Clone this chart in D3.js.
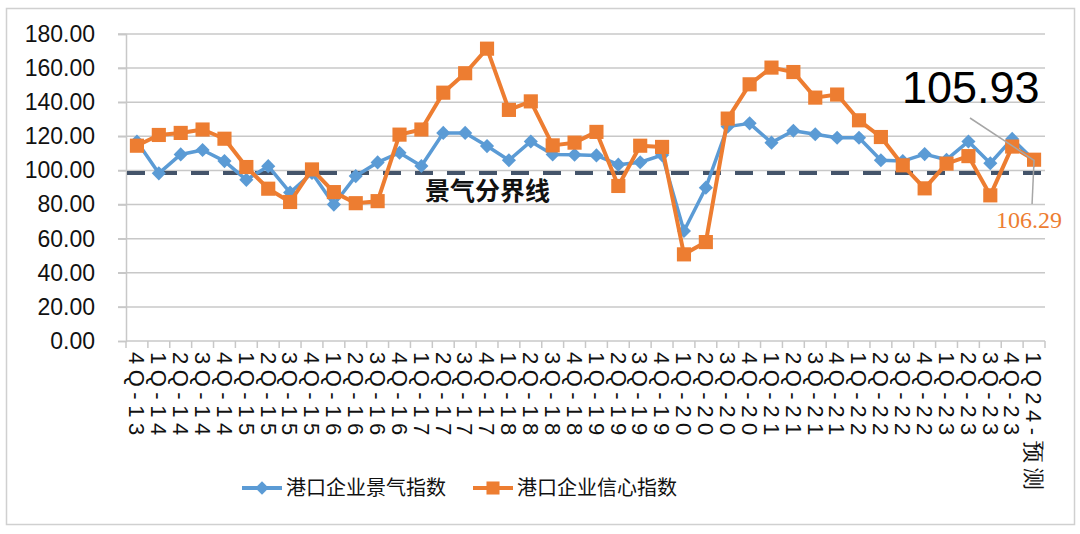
<!DOCTYPE html>
<html>
<head>
<meta charset="utf-8">
<script src="https://cdn.jsdelivr.net/npm/d3@7"></script>
<style>
  body { margin: 0; background: #fff; }
</style>
</head>
<body>
<div id="visContainer"></div>
<script>
'use strict';

// quarters on the x axis
var quarters = ['4Q-13','1Q-14','2Q-14','3Q-14','4Q-14','1Q-15','2Q-15','3Q-15','4Q-15',
  '1Q-16','2Q-16','3Q-16','4Q-16','1Q-17','2Q-17','3Q-17','4Q-17','1Q-18','2Q-18','3Q-18','4Q-18',
  '1Q-19','2Q-19','3Q-19','4Q-19','1Q-20','2Q-20','3Q-20','4Q-20','1Q-21','2Q-21','3Q-21','4Q-21',
  '1Q-22','2Q-22','3Q-22','4Q-22','1Q-23','2Q-23','3Q-23','4Q-23','1Q24-预测'];

// 港口企业景气指数
var prosperity = [117, 98.3, 109.4, 112, 105.5, 94.5, 102.5, 87, 98.5, 80, 96.7, 104.7, 110.4, 102.6,
  122, 122, 114.3, 106, 117, 109.4, 109.2, 108.8, 103.4, 104.8, 109, 64.5, 89.9, 125.7, 127.6,
  116.3, 123.3, 121.2, 119.2, 119.2, 106, 105.5, 109.6, 106.3, 117, 104.2, 118.5, 105.93];

// 港口企业信心指数
var confidence = [114.5, 120.8, 122, 124, 118.6, 102, 89.3, 81.5, 100.6, 87.3, 80.8, 82, 121, 124,
  145.6, 157, 171.4, 135.5, 140.5, 114.7, 116.3, 122.6, 90.9, 114.5, 113.8, 50.8, 58, 130.4, 150.5,
  160.3, 157.7, 142.7, 144.5, 129.4, 119.6, 103, 89.5, 104, 108.4, 85.4, 114, 106.29];

var yTicks = [0, 20, 40, 60, 80, 100, 120, 140, 160, 180];
var boundary = 98.5;  // 景气分界线

var width = 1080;
var height = 534;
var padding = { top: 34, right: 35, bottom: 193, left: 126 };
var sans = '"Liberation Sans", Arial, sans-serif';
var cjk = '"Noto Sans CJK SC", sans-serif';

var svg = d3.select('#visContainer')
  .append('svg')
  .attr('width', width)
  .attr('height', height)
  .style('font-family', sans);

// light frame round the whole chart
svg.append('rect')
  .attr('x', 6.5).attr('y', 8.5)
  .attr('width', 1068).attr('height', 516)
  .attr('fill', 'none')
  .attr('stroke', '#d0d0d0')
  .attr('stroke-width', 1.5);

var x = d3.scaleBand()
  .domain(quarters)
  .range([padding.left, width - padding.right]);

var y = d3.scaleLinear()
  .domain([0, 180])
  .range([height - padding.bottom, padding.top]);

function cx(d, i) { return x(quarters[i]) + x.bandwidth() / 2; }

// gridlines
svg.append('g')
  .selectAll('line')
  .data(yTicks.filter(function(t) { return t > 0; }))
  .enter().append('line')
  .attr('x1', padding.left - 8)
  .attr('x2', width - padding.right)
  .attr('y1', function(d) { return y(d); })
  .attr('y2', function(d) { return y(d); })
  .attr('stroke', '#c8c8c8')
  .attr('stroke-width', 1.5);

// y axis
var yAxis = d3.axisLeft(y)
  .tickValues(yTicks)
  .tickSize(8)
  .tickPadding(23)
  .tickFormat(d3.format('.2f'));
var gy = svg.append('g')
  .attr('transform', 'translate(' + padding.left + ',0)')
  .call(yAxis);
gy.select('.domain').attr('stroke', '#c8c8c8').attr('stroke-width', 1.5);
gy.selectAll('.tick line').attr('stroke', '#c8c8c8').attr('stroke-width', 1.5);
gy.selectAll('.tick text')
  .attr('font-size', '23px')
  .attr('fill', '#111')
  .style('font-family', sans);

// x axis line and tick marks at category edges
var xBase = y(0);
svg.append('line')
  .attr('x1', padding.left).attr('x2', width - padding.right)
  .attr('y1', xBase).attr('y2', xBase)
  .attr('stroke', '#c8c8c8').attr('stroke-width', 1.5);
svg.append('g')
  .selectAll('line')
  .data(quarters.concat(['end']))
  .enter().append('line')
  .attr('x1', function(d, i) { return padding.left + i * x.step(); })
  .attr('x2', function(d, i) { return padding.left + i * x.step(); })
  .attr('y1', xBase).attr('y2', xBase + 7)
  .attr('stroke', '#c8c8c8').attr('stroke-width', 1.5);

// rotated category labels
svg.append('g')
  .selectAll('text')
  .data(quarters)
  .enter().append('text')
  .attr('transform', function(d, i) { return 'translate(' + cx(d, i) + ',' + (xBase + 11) + ') rotate(90)'; })
  .attr('dy', '0.35em')
  .attr('text-anchor', 'start')
  .attr('font-size', '22px')
  .attr('letter-spacing', '5.5px')
  .attr('fill', '#111')
  .text(function(d) { return d; });

// boundary dashed line
svg.append('line')
  .attr('x1', padding.left + 1).attr('x2', width - padding.right)
  .attr('y1', y(boundary)).attr('y2', y(boundary))
  .attr('stroke', '#44546a')
  .attr('stroke-width', 4)
  .attr('stroke-dasharray', '18,14');

svg.append('text')
  .attr('x', 425).attr('y', 200)
  .attr('font-size', '25px')
  .attr('font-weight', 'bold')
  .style('font-family', cjk)
  .attr('fill', '#111')
  .text('景气分界线');

function drawLine(values, color, lw) {
  var line = d3.line()
    .x(function(d, i) { return cx(d, i); })
    .y(function(d) { return y(d); });
  svg.append('path')
    .attr('d', line(values))
    .attr('fill', 'none')
    .attr('stroke', color)
    .attr('stroke-width', lw)
    .attr('stroke-linejoin', 'round');
}

function drawMarkers(values, color, size, turn) {
  svg.append('g')
    .selectAll('path')
    .data(values)
    .enter().append('path')
    .attr('d', d3.symbol().type(d3.symbolSquare).size(size))
    .attr('transform', function(d, i) {
      return 'translate(' + cx(d, i) + ',' + y(d) + ')' + (turn ? ' rotate(45)' : '');
    })
    .attr('fill', color);
}

drawLine(prosperity, '#5b9bd5', 3.5);
drawMarkers(prosperity, '#5b9bd5', 100, true);   // diamonds
drawLine(confidence, '#ed7d31', 4);
drawMarkers(confidence, '#ed7d31', 200, false);  // squares

// call-outs for the forecast quarter
var last = quarters.length - 1;
var lx = cx(quarters[last], last);
svg.append('line')
  .attr('x1', 970).attr('y1', 118)
  .attr('x2', lx).attr('y2', y(prosperity[last]))
  .attr('stroke', '#a6a6a6').attr('stroke-width', 1.5);
svg.append('text')
  .attr('x', 902).attr('y', 103)
  .attr('font-size', '45px')
  .attr('fill', '#000')
  .text(prosperity[last].toFixed(2));

svg.append('line')
  .attr('x1', lx).attr('y1', y(confidence[last]))
  .attr('x2', lx - 2).attr('y2', 204)
  .attr('stroke', '#a6a6a6').attr('stroke-width', 1.5);
svg.append('text')
  .attr('x', 996).attr('y', 228)
  .attr('font-size', '24px')
  .style('font-family', '"Liberation Serif", "Times New Roman", serif')
  .attr('fill', '#ed7d31')
  .text(confidence[last].toFixed(2));

// legend
var legend = [
  { name: '港口企业景气指数', color: '#5b9bd5', x: 242, diamond: true },
  { name: '港口企业信心指数', color: '#ed7d31', x: 473, diamond: false }
];
var lg = svg.append('g').selectAll('g')
  .data(legend)
  .enter().append('g')
  .attr('transform', function(d) { return 'translate(' + d.x + ',488)'; });
lg.append('line')
  .attr('x1', 0).attr('x2', 40)
  .attr('stroke', function(d) { return d.color; })
  .attr('stroke-width', 4);
lg.append('path')
  .attr('d', d3.symbol().type(d3.symbolSquare).size(function(d) { return d.diamond ? 90 : 170; }))
  .attr('transform', function(d) { return 'translate(20,0)' + (d.diamond ? ' rotate(45)' : ''); })
  .attr('fill', function(d) { return d.color; });
lg.append('text')
  .attr('x', 44)
  .attr('dy', '0.36em')
  .attr('font-size', '20px')
  .style('font-family', cjk)
  .attr('fill', '#111')
  .text(function(d) { return d.name; });
</script>
</body>
</html>
